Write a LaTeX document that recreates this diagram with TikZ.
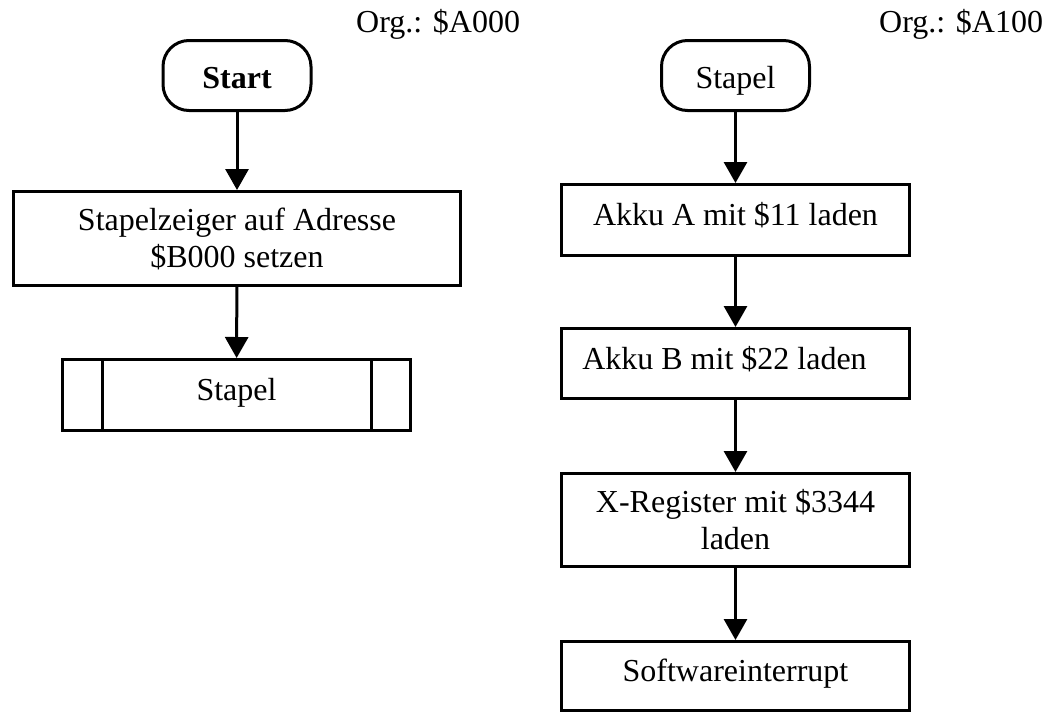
\documentclass[tikz,border=0pt]{standalone}
\usepackage{fontspec}
\setmainfont{Liberation Serif}
\usetikzlibrary{arrows.meta}
\begin{document}
\begin{tikzpicture}[x=1pt,y=-1pt,
  every node/.style={font=\fontsize{32}{37}\selectfont, inner sep=0pt},
  box/.style={draw, line width=3pt, align=center},
  oneline/.style={box, text height=20pt, text depth=9pt},
  terminal/.style={box, rounded corners=26pt, minimum width=148pt, minimum height=70pt,
                   text height=26pt, text depth=0pt},
  flow/.style={line width=3pt, -{Triangle[length=21pt,width=23pt]}}
]
\useasboundingbox (0,0) rectangle (1045,713);

% main program
\node[anchor=base west] (orgA) at (356,32) {Org.: \$A000};
\node[terminal] (start) at (237,75.5) {\textbf{Start}};
\node[box, minimum width=447pt, minimum height=94pt] (setsp) at (237,238.5)
  {Stapelzeiger auf Adresse\\\$B000 setzen};
\node[oneline, minimum width=348pt, minimum height=71pt] (call) at (236.5,395) {Stapel};
\draw[line width=3pt] ([xshift=41pt]call.north west) -- ([xshift=41pt]call.south west)
                      ([xshift=-41pt]call.north east) -- ([xshift=-41pt]call.south east);

\draw[flow] (start) -- (setsp);
\draw[flow] (setsp) -- (call);

% subroutine Stapel
\node[anchor=base west] (orgB) at (879,32) {Org.: \$A100};
\node[terminal] (stapel) at (735.5,75.5) {Stapel};
\node[oneline, minimum width=348pt, minimum height=71pt] (akkua) at (735.5,220) {Akku A mit \$11 laden};
\node[oneline, minimum width=348pt, minimum height=70pt] (akkub) at (735.5,363.5) {Akku B mit \$22 laden\hspace*{22pt}};
\node[box, minimum width=348pt, minimum height=93pt] (xreg) at (735.5,520) {X-Register mit \$3344\\laden};
\node[oneline, minimum width=348pt, minimum height=69pt] (swi) at (735.5,676) {Softwareinterrupt};

\draw[flow] (stapel) -- (akkua);
\draw[flow] (akkua) -- (akkub);
\draw[flow] (akkub) -- (xreg);
\draw[flow] (xreg) -- (swi);
\end{tikzpicture}
\end{document}
